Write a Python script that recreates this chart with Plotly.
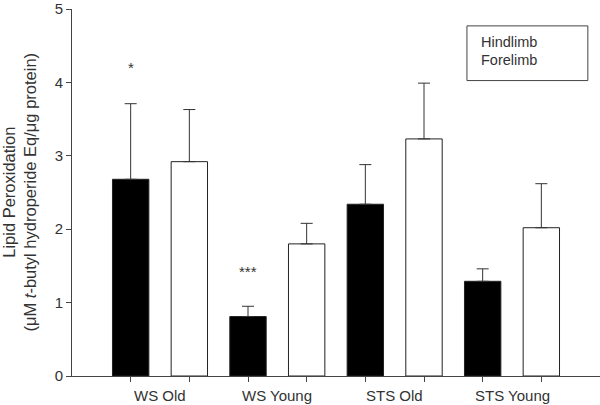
import plotly.graph_objects as go

categories = ["WS Old", "WS Young", "STS Old", "STS Young"]
hindlimb = [2.68, 0.81, 2.34, 1.29]
hindlimb_err = [1.03, 0.14, 0.54, 0.17]
forelimb = [2.92, 1.80, 3.23, 2.02]
forelimb_err = [0.71, 0.28, 0.76, 0.60]
sig_labels = ["*", "***", "", ""]
sig_y = [4.2, 1.42, None, None]

idx = list(range(len(categories)))
x_h = [i - 0.25 for i in idx]
x_f = [i + 0.25 for i in idx]

FONT = "Liberation Sans, Arial, sans-serif"
AX = "#444444"
TXT = "#333333"

fig = go.Figure()
fig.add_trace(go.Bar(
    x=x_h, y=hindlimb, width=0.31, name="Hindlimb",
    marker=dict(color="black", line=dict(color="#222", width=1)),
    error_y=dict(type="data", array=hindlimb_err, arrayminus=[0]*4, symmetric=False,
                 color="#333", thickness=1, width=6),
))
fig.add_trace(go.Bar(
    x=x_f, y=forelimb, width=0.31, name="Forelimb",
    marker=dict(color="white", line=dict(color="#222", width=1)),
    error_y=dict(type="data", array=forelimb_err, arrayminus=[0]*4, symmetric=False,
                 color="#333", thickness=1, width=6),
))

annotations = []
for i, (lab, yy) in enumerate(zip(sig_labels, sig_y)):
    if lab:
        annotations.append(dict(x=x_h[i], y=yy, text=lab, showarrow=False,
                                font=dict(family=FONT, size=15, color=TXT)))
for i, c in enumerate(categories):
    annotations.append(dict(x=i, y=0, xref="x", yref="y", text=c, showarrow=False,
                            yanchor="middle", yshift=-19,
                            font=dict(family=FONT, size=15, color=TXT)))
annotations.append(dict(
    x=0, y=0.5, xref="paper", yref="paper", xanchor="center", yanchor="middle",
    xshift=-53, textangle=-90, showarrow=False,
    text="Lipid Peroxidation<br>(μM <i>t</i>-butyl hydroperide Eq/μg protein)",
    font=dict(family=FONT, size=16.5, color=TXT)))
annotations.append(dict(x=0.77, y=0.91, xref="paper", yref="paper", xanchor="left",
                        yanchor="middle", text="Hindlimb", showarrow=False,
                        font=dict(family=FONT, size=14.5, color=TXT)))
annotations.append(dict(x=0.77, y=0.861, xref="paper", yref="paper", xanchor="left",
                        yanchor="middle", text="Forelimb", showarrow=False,
                        font=dict(family=FONT, size=14.5, color=TXT)))

fig.update_layout(
    width=600, height=405,
    margin=dict(l=72, r=0, t=6, b=29),
    paper_bgcolor="white", plot_bgcolor="white",
    barmode="overlay", showlegend=False,
    font=dict(family=FONT, size=15, color=TXT),
    annotations=annotations,
    shapes=[dict(type="rect", xref="paper", yref="paper",
                 x0=0.748, x1=0.977, y0=0.805, y1=0.954,
                 line=dict(color=AX, width=1), fillcolor="rgba(0,0,0,0)")],
    xaxis=dict(range=[-0.75, 3.75], tickvals=x_h + x_f, ticktext=[""] * 8,
               ticks="outside", ticklen=5, tickcolor=AX, showline=True,
               linecolor=AX, linewidth=1, showgrid=False, zeroline=False),
    yaxis=dict(range=[0, 5], tickvals=[0, 1, 2, 3, 4, 5], ticks="outside",
               ticklen=5, tickcolor=AX, showline=True, linecolor=AX, linewidth=1,
               showgrid=False, zeroline=False, ticklabeloverflow="allow",
               tickfont=dict(size=15, color=TXT)),
)

fig.write_html("out.html", config={"displayModeBar": False},
               post_script="document.body.style.margin='0';document.body.style.padding='0';")
